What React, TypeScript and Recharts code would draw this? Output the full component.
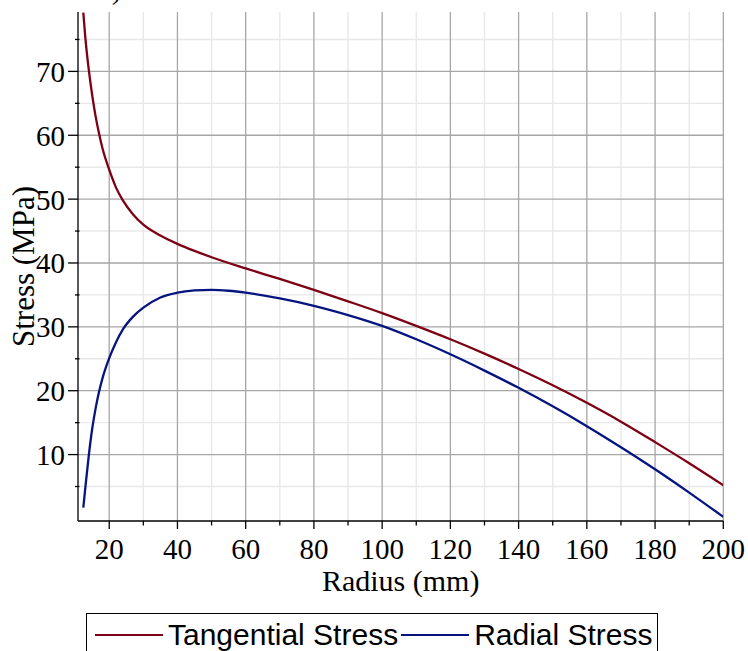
import React from "react";
import { CartesianGrid, Label, Line, LineChart, XAxis, YAxis } from "recharts";

const tangentialRadius = [12.4, 13, 14, 15, 16, 17, 18, 20, 22, 24, 27, 30, 35, 40, 45, 50, 60, 70, 80, 90, 100, 110, 120, 130, 140, 150, 160, 170, 180, 190, 200];
const tangentialStress = [79.2, 75.3, 70.3, 66.3, 63.0, 60.3, 58.0, 54.6, 51.8, 49.8, 47.6, 46.0, 44.3, 43.0, 41.9, 40.9, 39.15, 37.5, 35.8, 34.0, 32.15, 30.15, 28.05, 25.8, 23.4, 20.85, 18.1, 15.15, 11.95, 8.65, 5.2];

const radialRadius = [12.4, 13, 14, 15, 16, 17, 18, 20, 22, 24, 27, 30, 35, 40, 45, 50, 55, 60, 70, 80, 90, 100, 110, 120, 130, 140, 150, 160, 170, 180, 190, 200];
const radialStress = [1.7, 4.8, 9.8, 14.0, 17.2, 19.8, 21.9, 25.1, 27.6, 29.6, 31.6, 33.0, 34.6, 35.35, 35.7, 35.8, 35.65, 35.35, 34.45, 33.3, 31.85, 30.15, 28.05, 25.7, 23.15, 20.45, 17.55, 14.45, 11.15, 7.7, 4.05, 0.25];

const xMajorTicks = [20, 40, 60, 80, 100, 120, 140, 160, 180, 200];
const xMinorTicks = [30, 50, 70, 90, 110, 130, 150, 170, 190];
const yMajorTicks = [10, 20, 30, 40, 50, 60, 70];
const yMinorTicks = [5, 15, 25, 35, 45, 55, 65, 75];

const seriesNames = ["Tangential Stress", "Radial Stress"];
const seriesColors = ["#7d0014", "#061480"];

const tangentialData = tangentialRadius.map((r, i) => ({ r, stress: tangentialStress[i] }));
const radialData = radialRadius.map((r, i) => ({ r, stress: radialStress[i] }));

const serif = "'Liberation Serif', 'Times New Roman', serif";
const sans = "'Liberation Sans', Arial, sans-serif";

function XTick({ x, y, payload }: any) {
  const major = xMajorTicks.includes(payload.value);
  return (
    <g>
      <line x1={x} x2={x} y1={y} y2={y + (major ? 8 : 4.5)} stroke="#000" strokeWidth={1.3} />
      {major && (
        <text x={x} y={y + 38} textAnchor="middle" fontSize={29} fontFamily={serif} fill="#000">
          {payload.value}
        </text>
      )}
    </g>
  );
}

function YTick({ x, y, payload }: any) {
  const major = yMajorTicks.includes(payload.value);
  return (
    <g>
      <line x1={major ? x - 10 : x - 3} x2={major ? x : x + 1.5} y1={y} y2={y} stroke="#000" strokeWidth={1.3} />
      {major && (
        <text x={x - 13} y={y + 10.5} textAnchor="end" fontSize={29} fontFamily={serif} fill="#000">
          {payload.value}
        </text>
      )}
    </g>
  );
}

export default function App() {
  return (
    <div style={{ position: "absolute", left: 0, top: 0, width: 748, height: 651, background: "#fff", overflow: "hidden" }}>
      <LineChart width={748} height={651} margin={{ top: 12, left: 77, right: 24.7, bottom: 129 }}>
        <CartesianGrid
          horizontalValues={yMinorTicks}
          verticalValues={xMinorTicks}
          stroke="#e8e8e8"
          strokeWidth={1.4}
        />
        <CartesianGrid
          horizontalValues={yMajorTicks}
          verticalValues={xMajorTicks}
          stroke="#a6a6a6"
          strokeWidth={1.3}
        />
        <XAxis
          type="number"
          dataKey="r"
          domain={[10.85, 200]}
          allowDataOverflow
          ticks={[...xMajorTicks, ...xMinorTicks].sort((a, b) => a - b)}
          interval={0}
          height={1}
          tickSize={0}
          tickMargin={0}
          tickLine={false}
          tick={<XTick />}
          axisLine={{ stroke: "#000", strokeWidth: 1.3 }}
          label={
            <Label
              content={(p: any) => (
                <text x={p.viewBox.x + p.viewBox.width / 2} y={p.viewBox.y + 70} textAnchor="middle" fontSize={30} fontFamily={serif} fill="#000">
                  Radius (mm)
                </text>
              )}
            />
          }
        />
        <YAxis
          type="number"
          dataKey="stress"
          domain={[-0.4, 79.3]}
          allowDataOverflow
          ticks={[...yMajorTicks, ...yMinorTicks].sort((a, b) => a - b)}
          interval={0}
          width={1}
          tickSize={0}
          tickMargin={0}
          tickLine={false}
          tick={<YTick />}
          axisLine={{ stroke: "#000", strokeWidth: 1.3 }}
          label={
            <Label
              content={(p: any) => {
                const cy = p.viewBox.y + p.viewBox.height / 2;
                return (
                  <text x={34} y={cy} transform={`rotate(-90 34 ${cy})`} textAnchor="middle" fontSize={31} fontFamily={serif} fill="#000">
                    Stress (MPa)
                  </text>
                );
              }}
            />
          }
        />
        <Line
          data={tangentialData}
          dataKey="stress"
          name={seriesNames[0]}
          type="monotone"
          stroke={seriesColors[0]}
          strokeWidth={2.3}
          dot={false}
          isAnimationActive={false}
        />
        <Line
          data={radialData}
          dataKey="stress"
          name={seriesNames[1]}
          type="monotone"
          stroke={seriesColors[1]}
          strokeWidth={2.3}
          dot={false}
          isAnimationActive={false}
        />
      </LineChart>
      <svg style={{ position: "absolute", left: 0, top: 0 }} width={748} height={20}>
        <text x={112} y={-1} fontSize={28} fontFamily={serif} fill="#000">)</text>
      </svg>
      <div
        style={{
          position: "absolute",
          left: 86,
          top: 613,
          width: 572,
          height: 60,
          boxSizing: "border-box",
          border: "1.5px solid #000",
          paddingLeft: 8,
          paddingTop: 4,
          fontFamily: sans,
          fontSize: 30,
          lineHeight: "33px",
        }}
      >
        <div style={{ display: "flex", alignItems: "center", height: 33 }}>
          {seriesNames.map((name, i) => (
            <React.Fragment key={name}>
              <span style={{ display: "inline-block", width: 68, height: 0, borderTop: `2px solid ${seriesColors[i]}`, marginLeft: i === 0 ? 0 : 3, marginRight: 5 }} />
              <span style={{ color: "#000", whiteSpace: "nowrap" }}>{name}</span>
            </React.Fragment>
          ))}
        </div>
      </div>
    </div>
  );
}
